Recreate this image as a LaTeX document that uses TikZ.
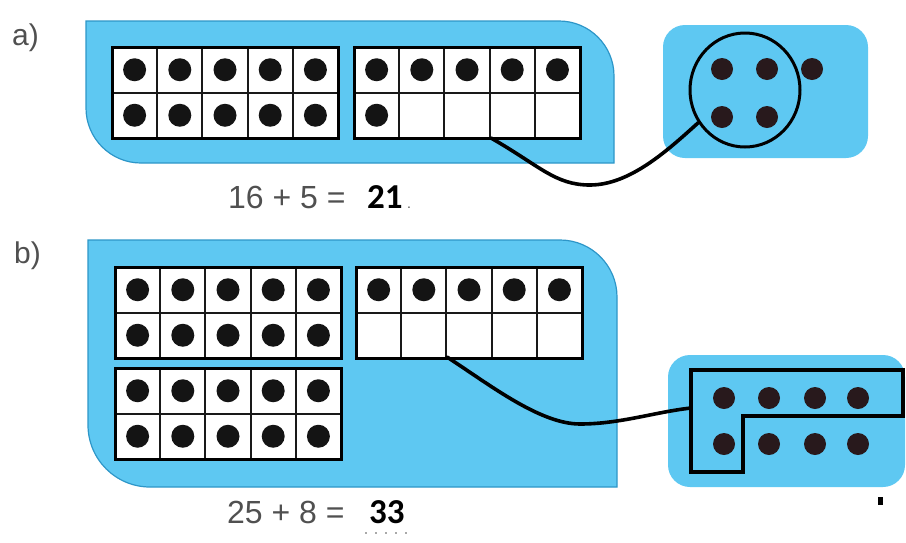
\documentclass[tikz,border=0pt]{standalone}
\usepackage{fontspec}
\setmainfont{Liberation Sans}
\newfontfamily\answerfont{Carlito}
\usetikzlibrary{shapes.geometric}

\definecolor{panelblue}{RGB}{94,200,242}
\definecolor{paneledge}{RGB}{45,150,200}
\definecolor{textgray}{RGB}{80,80,80}
\definecolor{dotdark}{RGB}{40,25,28}

\tikzset{
	panel/.style={fill=panelblue, draw=paneledge, line width=1.2pt},
	sidebox/.style={fill=panelblue, rounded corners=22pt},
	cell/.style={draw=black!90, fill=white, line width=2pt},
	counter/.style={fill=black!92},
	loose/.style={fill=dotdark},
	link/.style={line width=3.6pt, line cap=round},
	group/.style={line width=3.5pt},
	part/.style={font=\fontsize{30}{30}\selectfont, text=textgray, inner sep=0pt, anchor=base west},
	sum/.style={font=\fontsize{32}{32}\selectfont, text=textgray, inner sep=0pt, anchor=base west},
	answer/.style={font=\answerfont\bfseries\fontsize{35}{35}\selectfont, inner sep=0pt, anchor=base west},
}

\begin{document}
\begin{tikzpicture}[x=1pt, y=-1pt]
	\useasboundingbox (0,0) rectangle (906,542);

	% a)
	\node[part] (la) at (12,45) {a)};
	\draw[panel] (86,21) -- (559,21) arc[start angle=270, end angle=360, radius=55]
		-- (614,163) -- (141,163) arc[start angle=90, end angle=180, radius=55] -- cycle;
	\fill[sidebox] (663,25) rectangle (868,158);

	% b)
	\node[part] (lb) at (14,263) {b)};
	\draw[panel] (88,240) -- (560,240) arc[start angle=270, end angle=360, radius=57]
		-- (617,487) -- (150,487) arc[start angle=90, end angle=180, radius=62] -- cycle;
	\fill[sidebox] (668,355) rectangle (905,487);

	% ten frames
	\foreach \fx / \fy / \n in {112/47/10, 354/47/6, 115/267/10, 356/267/5, 115/368/10}
	{
		\foreach \r in {0,1}
		{
			\foreach \c in {0,...,4}
			{
				\draw[cell] (\fx+\c*45.2, \fy+\r*45.5) rectangle ++(45.2,45.5);
				\pgfmathtruncatemacro{\k}{\r*5+\c+1}
				\ifnum\k>\n\else
					\fill[counter] (\fx+\c*45.2+22.6, \fy+\r*45.5+22.75) circle [radius=11.5];
				\fi
			};
		};
		\draw[line width=3pt] (\fx,\fy) rectangle ++(226,91);
	};

	% loose counters a)
	\foreach \x / \y in {722/69, 767/69, 812/69, 722/117, 767/117}
	{
		\fill[loose] (\x,\y) circle [radius=11];
	};
	\node[draw, ellipse, line width=3pt, minimum width=110, minimum height=114] (ga) at (745,90) {};

	% loose counters b)
	\foreach \x in {724, 769, 815, 858}
	{
		\fill[loose] (\x,398) circle [radius=11];
		\fill[loose] (\x,444) circle [radius=11];
	};
	\draw[group] (691,370) -- (903,370) -- (903,416) -- (743,416) -- (743,472) -- (691,472) -- cycle;
	\coordinate (gb) at (691,408);
	\fill (877.5,497) rectangle (883,505);

	% links
	\coordinate (sa) at (491,138);
	\coordinate (sb) at (447,357);
	\draw[link] (sa) .. controls (540,166) and (555,185) .. (590,185)
		.. controls (630,185) and (668,150) .. (ga.215);
	\draw[link] (sb) .. controls (490,385) and (540,424) .. (580,424)
		.. controls (620,424) and (655,412) .. (gb);

	% sums
	\node[sum] (qa) at (228,208) {16 + 5 =};
	\node[answer] (ra) at (367,208) {21};
	\node[sum, font=\fontsize{14}{14}\selectfont] (pa) at (407,208) {.};

	\node[sum] (qb) at (227,523) {25 + 8 =};
	\node[answer] (rb) at (369,523) {33};
	\draw[line width=1.8pt, line cap=round, dash pattern=on 0pt off 10pt, textgray]
		([shift={(-3pt,-10pt)}]rb.base west) -- ([shift={(6pt,-10pt)}]rb.base east);
\end{tikzpicture}
\end{document}
